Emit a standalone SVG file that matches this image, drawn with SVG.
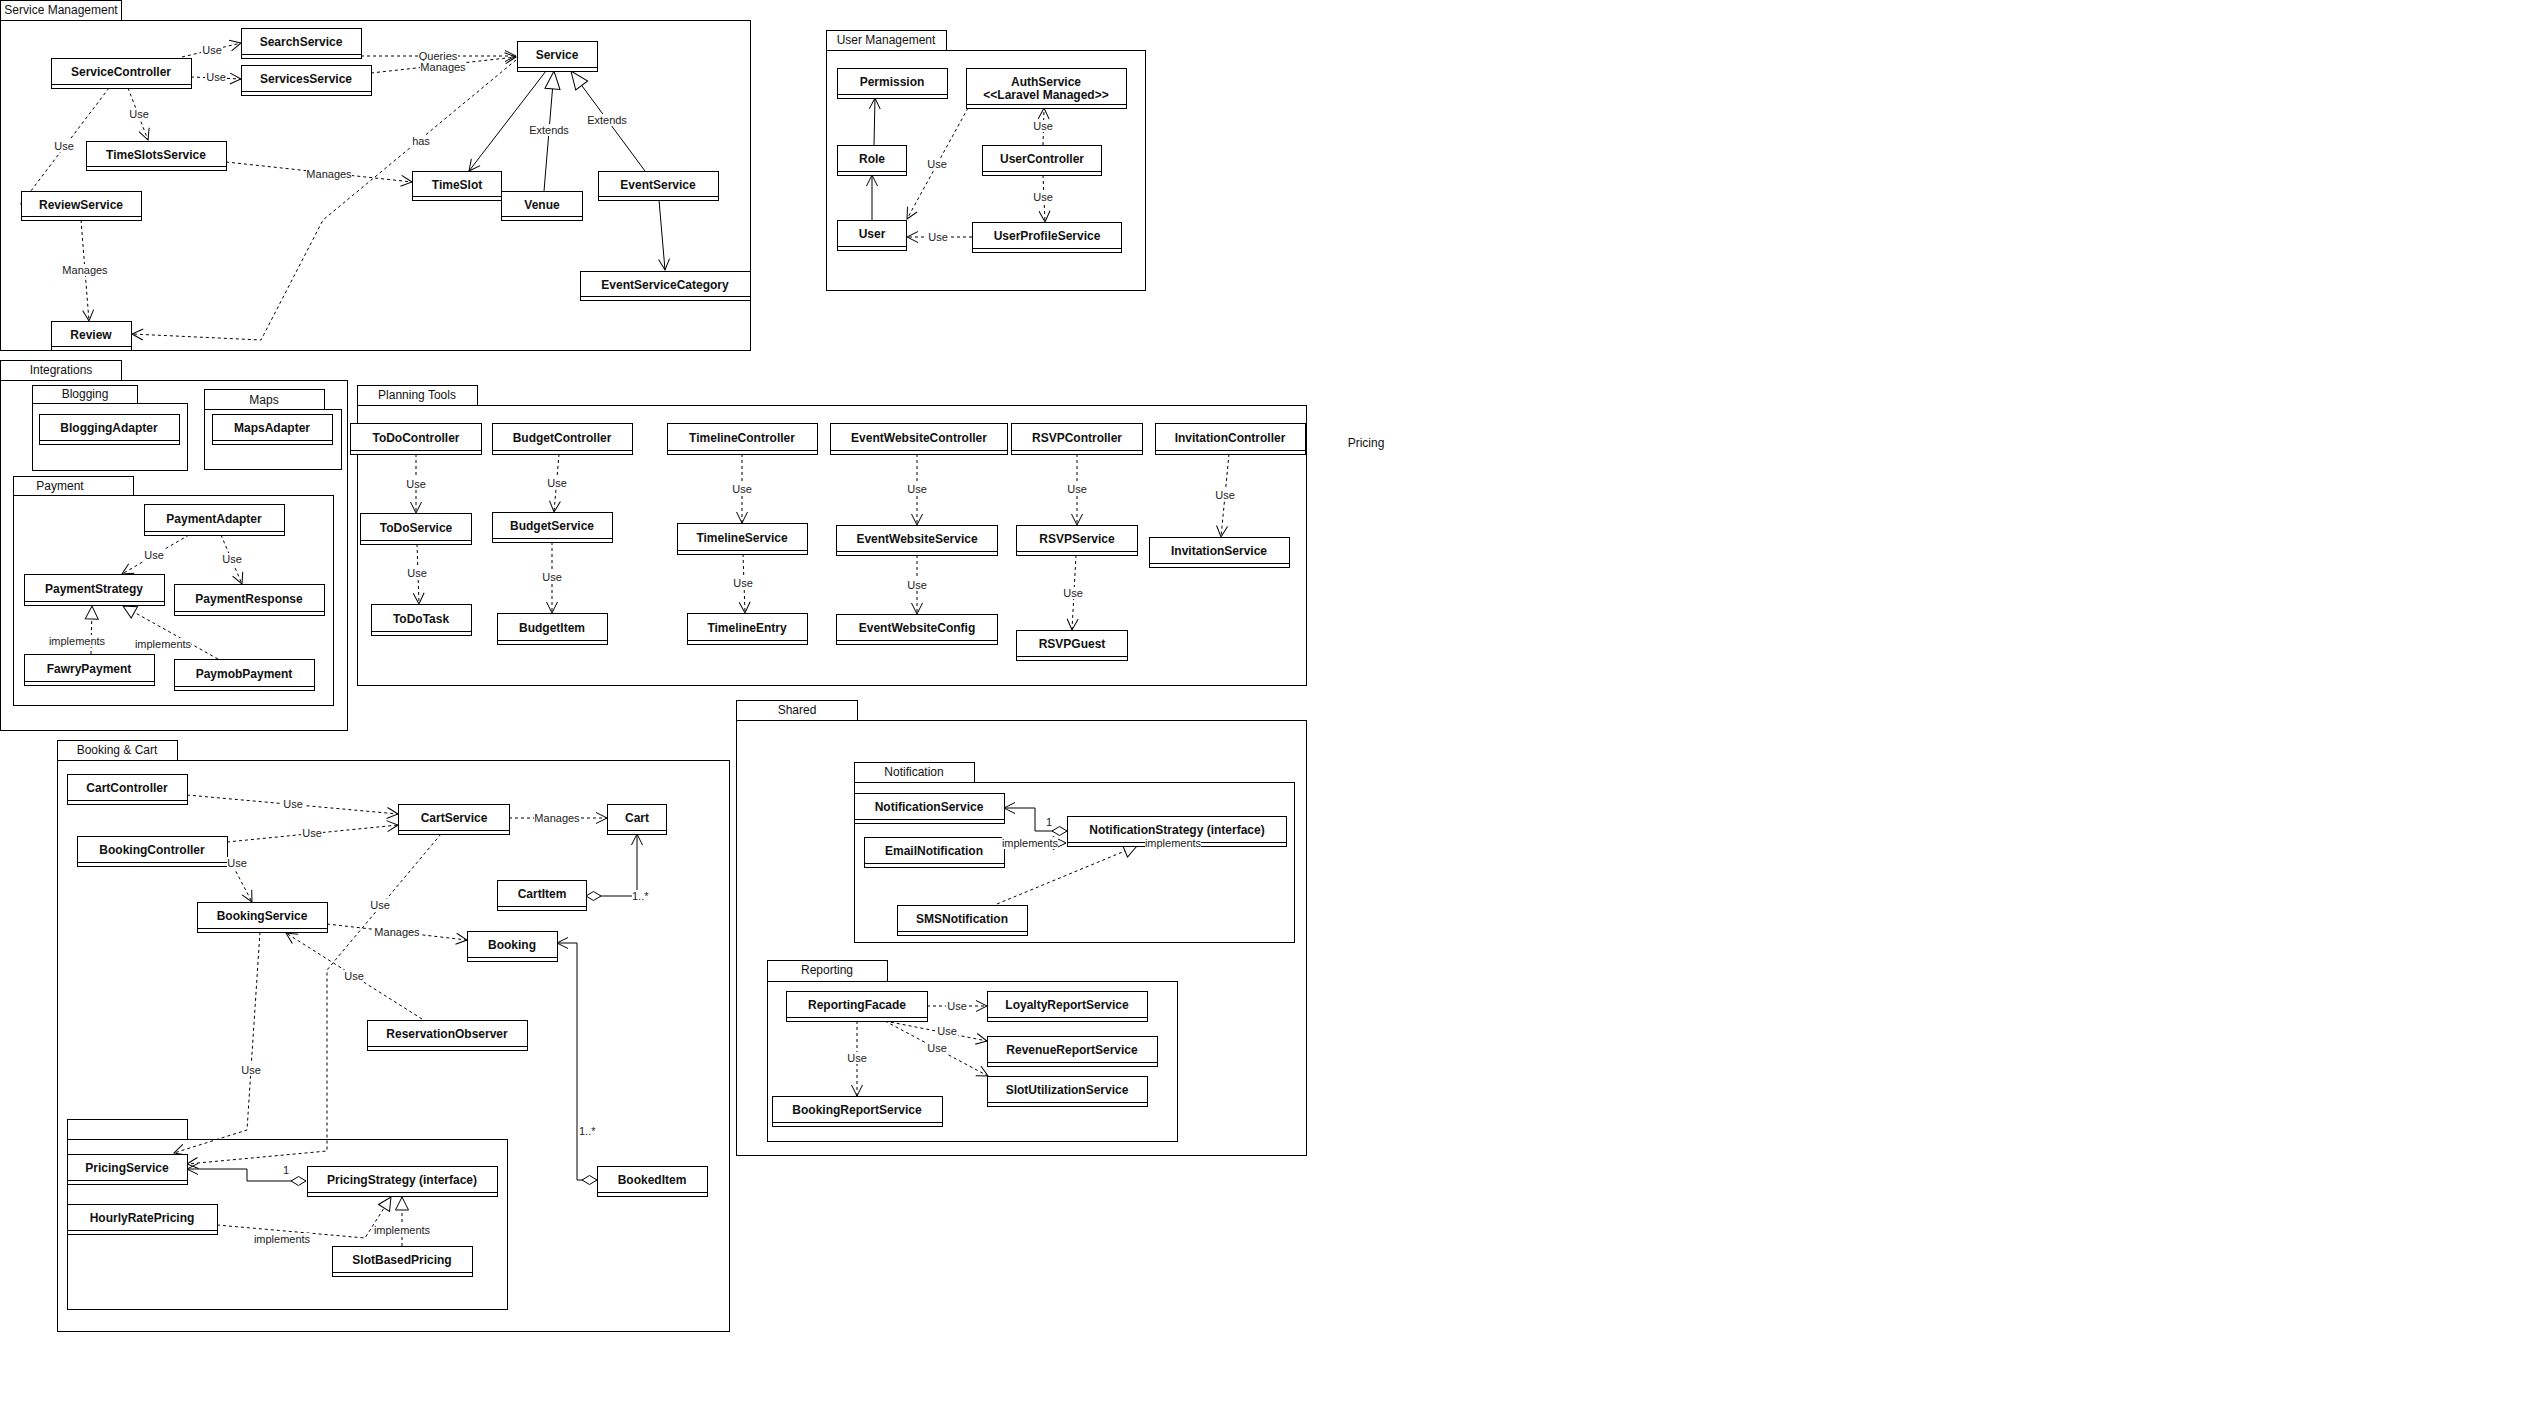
<svg xmlns="http://www.w3.org/2000/svg" width="2547" height="1406" viewBox="0 0 2547 1406">
<style>
.bg{fill:#fff}
.pk{fill:#fff;stroke:#000;stroke-width:1}
.pt{font-family:"Liberation Sans",Arial,sans-serif;font-size:12px;text-anchor:middle;fill:#111}
.c{fill:#fff;stroke:#000;stroke-width:1}
.cl{stroke:#000;stroke-width:1}
.n{font-family:"Liberation Sans",Arial,sans-serif;font-size:12px;font-weight:bold;text-anchor:middle;fill:#111}
.e{fill:none;stroke:#000;stroke-width:1}
.d{stroke-dasharray:3 3}
.o{marker-end:url(#open)}
.tb{marker-end:url(#triBig)}
.ts{marker-end:url(#triSmall)}
.dm{marker-start:url(#diamond)}
.lb{fill:#fff}
.l{font-family:"Liberation Sans",Arial,sans-serif;font-size:11px;text-anchor:middle;fill:#222}
.la{font-family:"Liberation Sans",Arial,sans-serif;font-size:11px;text-anchor:start;fill:#222}
</style>
<defs>
<marker id="open" markerUnits="userSpaceOnUse" markerWidth="14" markerHeight="14" viewBox="0 0 14 14" refX="12" refY="7" orient="auto" overflow="visible"><path d="M1,1.5 L12,7 L1,12.5" fill="none" stroke="#000" stroke-width="1"/></marker>
<marker id="triBig" markerUnits="userSpaceOnUse" markerWidth="20" markerHeight="20" viewBox="0 0 20 20" refX="19" refY="10" orient="auto" overflow="visible"><path d="M1,2.5 L19,10 L1,17.5 Z" fill="#fff" stroke="#000" stroke-width="1"/></marker>
<marker id="triSmall" markerUnits="userSpaceOnUse" markerWidth="16" markerHeight="16" viewBox="0 0 16 16" refX="14" refY="8" orient="auto" overflow="visible"><path d="M1,1.5 L14,8 L1,14.5 Z" fill="#fff" stroke="#000" stroke-width="1"/></marker>
<marker id="diamond" markerUnits="userSpaceOnUse" markerWidth="18" markerHeight="12" viewBox="0 0 18 12" refX="1" refY="6" orient="auto" overflow="visible"><path d="M1,6 L8.5,1.5 L16,6 L8.5,10.5 Z" fill="#fff" stroke="#000" stroke-width="1"/></marker>
</defs>
<rect class="bg" x="0" y="0" width="2547" height="1406"/>

<g id="packages">
<g id="pkg-service-management"><rect class="pk" x="0.5" y="0.5" width="121" height="20"/><rect class="pk" x="0.5" y="20.5" width="750" height="330"/><text class="pt" x="61" y="14">Service Management</text></g>
<g id="pkg-user-management"><rect class="pk" x="826.5" y="30.5" width="120" height="20"/><rect class="pk" x="826.5" y="50.5" width="319" height="240"/><text class="pt" x="886" y="44">User Management</text></g>
<g id="pkg-integrations"><rect class="pk" x="0.5" y="360.5" width="121" height="20"/><rect class="pk" x="0.5" y="380.5" width="347" height="350"/><text class="pt" x="61" y="374">Integrations</text></g>
<g id="pkg-blogging"><rect class="pk" x="32.5" y="385.5" width="105" height="18"/><rect class="pk" x="32.5" y="403.5" width="155" height="67"/><text class="pt" x="85" y="398">Blogging</text></g>
<g id="pkg-maps"><rect class="pk" x="204.5" y="389.5" width="120" height="20"/><rect class="pk" x="204.5" y="409.5" width="137" height="60"/><text class="pt" x="264" y="404">Maps</text></g>
<g id="pkg-payment"><rect class="pk" x="13.5" y="476.5" width="120" height="19"/><rect class="pk" x="13.5" y="495.5" width="320" height="210"/><text class="pt" x="60" y="490">Payment</text></g>
<g id="pkg-planning-tools"><rect class="pk" x="357.5" y="385.5" width="120" height="20"/><rect class="pk" x="357.5" y="405.5" width="949" height="280"/><text class="pt" x="417" y="399">Planning Tools</text></g>
<g id="pkg-booking-cart"><rect class="pk" x="57.5" y="740.5" width="120" height="20"/><rect class="pk" x="57.5" y="760.5" width="672" height="571"/><text class="pt" x="117" y="754">Booking &amp; Cart</text></g>
<g id="pkg-pricing-inner"><rect class="pk" x="67.5" y="1119.5" width="120" height="20"/><rect class="pk" x="67.5" y="1139.5" width="440" height="170"/></g>
<g id="pkg-shared"><rect class="pk" x="736.5" y="700.5" width="121" height="20"/><rect class="pk" x="736.5" y="720.5" width="570" height="435"/><text class="pt" x="797" y="714">Shared</text></g>
<g id="pkg-notification"><rect class="pk" x="854.5" y="762.5" width="120" height="20"/><rect class="pk" x="854.5" y="782.5" width="440" height="160"/><text class="pt" x="914" y="776">Notification</text></g>
<g id="pkg-reporting"><rect class="pk" x="767.5" y="960.5" width="120" height="21"/><rect class="pk" x="767.5" y="981.5" width="410" height="160"/><text class="pt" x="827" y="974">Reporting</text></g>
<g id="pkg-pricing"><text class="pt" x="1366" y="447">Pricing</text></g>
</g>

<g id="connectors">
<path class="e d o" d="M182,57 L241,43"/>
<path class="e d o" d="M191,77 L241,79"/>
<path class="e d o" d="M361,56 L516,56"/>
<path class="e d o" d="M371,73 L516,57"/>
<path class="e d o" d="M128,88 L148,140"/>
<path class="e d o" d="M109,88 L21,204"/>
<path class="e d o" d="M226,162 L412,182"/>
<path class="e d o" d="M81,220 L89,321"/>
<path class="e d o" d="M516,60 L323,220 L261,340 L132,334"/>
<path class="e o" d="M546,71 L469,171"/>
<path class="e tb" d="M544,191 L554,71"/>
<path class="e tb" d="M645,171 L571,71"/>
<path class="e o" d="M659,200 L665,270"/>

<path class="e o" d="M874,145 L875,98"/>
<path class="e o" d="M872,220 L872,175"/>
<path class="e d o" d="M968,108 L907,219"/>
<path class="e d o" d="M1043,145 L1044,108"/>
<path class="e d o" d="M1043,175 L1045,222"/>
<path class="e d o" d="M972,237 L907,237"/>

<path class="e d o" d="M189,535 L122,574"/>
<path class="e d o" d="M221,535 L242,584"/>
<path class="e d ts" d="M91,654 L92,606"/>
<path class="e d ts" d="M218,659 L123,606"/>

<path class="e d o" d="M416,454 L416,513"/>
<path class="e d o" d="M417,544 L419,604"/>
<path class="e d o" d="M559,454 L554,512"/>
<path class="e d o" d="M552,542 L552,613"/>
<path class="e d o" d="M742,454 L742,523"/>
<path class="e d o" d="M743,554 L745,613"/>
<path class="e d o" d="M917,454 L917,525"/>
<path class="e d o" d="M917,555 L917,614"/>
<path class="e d o" d="M1077,454 L1077,525"/>
<path class="e d o" d="M1076,555 L1072,630"/>
<path class="e d o" d="M1229,454 L1221,537"/>

<path class="e d o" d="M187,795 L398,814"/>
<path class="e d o" d="M227,842 L398,825"/>
<path class="e d o" d="M233,866 L252,902"/>
<path class="e d o" d="M509,818 L607,818"/>
<path class="e dm o" d="M586,896 L637,896 L637,834"/>
<path class="e d o" d="M327,924 L467,940"/>
<path class="e d o" d="M422,1019 L286,933"/>
<path class="e d o" d="M441,834 L327,970 L327,1151 L187,1164"/>
<path class="e d o" d="M260,932 L247,1130 L174,1153"/>
<path class="e dm o" d="M306,1181 L247,1181 L247,1169 L187,1169"/>
<path class="e d ts" d="M217,1225 L365,1238 L391,1197"/>
<path class="e d ts" d="M402,1246 L402,1197"/>
<path class="e dm o" d="M597,1180 L577,1180 L577,943 L557,943"/>

<path class="e dm o" d="M1067,831 L1035,831 L1035,808 L1004,808"/>
<path class="e d ts" d="M1004,843 L1066,843"/>
<path class="e d ts" d="M997,904 L1137,846"/>
<path class="e d o" d="M927,1006 L987,1006"/>
<path class="e d o" d="M885,1021 L987,1041"/>
<path class="e d o" d="M885,1021 L988,1076"/>
<path class="e d o" d="M857,1021 L857,1096"/>
</g>

<g id="nodes">
<g id="ServiceController"><rect class="c" x="51.5" y="58.5" width="140" height="30"/><line class="cl" x1="51.5" y1="84.5" x2="191.5" y2="84.5"/><text class="n" x="121" y="76">ServiceController</text></g>
<g id="SearchService"><rect class="c" x="241.5" y="28.5" width="120" height="30"/><line class="cl" x1="241.5" y1="54.5" x2="361.5" y2="54.5"/><text class="n" x="301" y="46">SearchService</text></g>
<g id="ServicesService"><rect class="c" x="241.5" y="65.5" width="130" height="30"/><line class="cl" x1="241.5" y1="91.5" x2="371.5" y2="91.5"/><text class="n" x="306" y="83">ServicesService</text></g>
<g id="Service"><rect class="c" x="517.5" y="41.5" width="80" height="30"/><line class="cl" x1="517.5" y1="67.5" x2="597.5" y2="67.5"/><text class="n" x="557" y="59">Service</text></g>
<g id="TimeSlotsService"><rect class="c" x="86.5" y="141.5" width="140" height="29"/><line class="cl" x1="86.5" y1="166.5" x2="226.5" y2="166.5"/><text class="n" x="156" y="159">TimeSlotsService</text></g>
<g id="ReviewService"><rect class="c" x="21.5" y="191.5" width="120" height="29"/><line class="cl" x1="21.5" y1="216.5" x2="141.5" y2="216.5"/><text class="n" x="81" y="209">ReviewService</text></g>
<g id="TimeSlot"><rect class="c" x="412.5" y="171.5" width="89" height="29"/><line class="cl" x1="412.5" y1="196.5" x2="501.5" y2="196.5"/><text class="n" x="457" y="189">TimeSlot</text></g>
<g id="Venue"><rect class="c" x="501.5" y="191.5" width="81" height="29"/><line class="cl" x1="501.5" y1="216.5" x2="582.5" y2="216.5"/><text class="n" x="542" y="209">Venue</text></g>
<g id="EventService"><rect class="c" x="598.5" y="171.5" width="120" height="29"/><line class="cl" x1="598.5" y1="196.5" x2="718.5" y2="196.5"/><text class="n" x="658" y="189">EventService</text></g>
<g id="EventServiceCategory"><rect class="c" x="580.5" y="271.5" width="170" height="29"/><line class="cl" x1="580.5" y1="296.5" x2="750.5" y2="296.5"/><text class="n" x="665" y="289">EventServiceCategory</text></g>
<g id="Review"><rect class="c" x="51.5" y="321.5" width="80" height="29"/><line class="cl" x1="51.5" y1="346.5" x2="131.5" y2="346.5"/><text class="n" x="91" y="339">Review</text></g>

<g id="Permission"><rect class="c" x="837.5" y="68.5" width="110" height="30"/><line class="cl" x1="837.5" y1="94.5" x2="947.5" y2="94.5"/><text class="n" x="892" y="86">Permission</text></g>
<g id="AuthService"><rect class="c" x="966.5" y="68.5" width="160" height="40"/><line class="cl" x1="966.5" y1="104.5" x2="1126.5" y2="104.5"/><text class="n" x="1046" y="86">AuthService</text><text class="n" x="1046" y="99">&lt;&lt;Laravel Managed&gt;&gt;</text></g>
<g id="Role"><rect class="c" x="837.5" y="145.5" width="69" height="30"/><line class="cl" x1="837.5" y1="171.5" x2="906.5" y2="171.5"/><text class="n" x="872" y="163">Role</text></g>
<g id="UserController"><rect class="c" x="982.5" y="145.5" width="119" height="30"/><line class="cl" x1="982.5" y1="171.5" x2="1101.5" y2="171.5"/><text class="n" x="1042" y="163">UserController</text></g>
<g id="User"><rect class="c" x="837.5" y="220.5" width="69" height="30"/><line class="cl" x1="837.5" y1="246.5" x2="906.5" y2="246.5"/><text class="n" x="872" y="238">User</text></g>
<g id="UserProfileService"><rect class="c" x="972.5" y="222.5" width="149" height="30"/><line class="cl" x1="972.5" y1="248.5" x2="1121.5" y2="248.5"/><text class="n" x="1047" y="240">UserProfileService</text></g>

<g id="BloggingAdapter"><rect class="c" x="39.5" y="414.5" width="140" height="30"/><line class="cl" x1="39.5" y1="440.5" x2="179.5" y2="440.5"/><text class="n" x="109" y="432">BloggingAdapter</text></g>
<g id="MapsAdapter"><rect class="c" x="212.5" y="414.5" width="120" height="30"/><line class="cl" x1="212.5" y1="440.5" x2="332.5" y2="440.5"/><text class="n" x="272" y="432">MapsAdapter</text></g>
<g id="PaymentAdapter"><rect class="c" x="144.5" y="504.5" width="140" height="31"/><line class="cl" x1="144.5" y1="531.5" x2="284.5" y2="531.5"/><text class="n" x="214" y="523">PaymentAdapter</text></g>
<g id="PaymentStrategy"><rect class="c" x="24.5" y="574.5" width="140" height="31"/><line class="cl" x1="24.5" y1="601.5" x2="164.5" y2="601.5"/><text class="n" x="94" y="593">PaymentStrategy</text></g>
<g id="PaymentResponse"><rect class="c" x="174.5" y="584.5" width="150" height="31"/><line class="cl" x1="174.5" y1="611.5" x2="324.5" y2="611.5"/><text class="n" x="249" y="603">PaymentResponse</text></g>
<g id="FawryPayment"><rect class="c" x="24.5" y="654.5" width="130" height="31"/><line class="cl" x1="24.5" y1="681.5" x2="154.5" y2="681.5"/><text class="n" x="89" y="673">FawryPayment</text></g>
<g id="PaymobPayment"><rect class="c" x="174.5" y="659.5" width="140" height="31"/><line class="cl" x1="174.5" y1="686.5" x2="314.5" y2="686.5"/><text class="n" x="244" y="678">PaymobPayment</text></g>

<g id="ToDoController"><rect class="c" x="350.5" y="423.5" width="131" height="31"/><line class="cl" x1="350.5" y1="450.5" x2="481.5" y2="450.5"/><text class="n" x="416" y="442">ToDoController</text></g>
<g id="BudgetController"><rect class="c" x="492.5" y="423.5" width="140" height="31"/><line class="cl" x1="492.5" y1="450.5" x2="632.5" y2="450.5"/><text class="n" x="562" y="442">BudgetController</text></g>
<g id="TimelineController"><rect class="c" x="667.5" y="423.5" width="150" height="31"/><line class="cl" x1="667.5" y1="450.5" x2="817.5" y2="450.5"/><text class="n" x="742" y="442">TimelineController</text></g>
<g id="EventWebsiteController"><rect class="c" x="830.5" y="423.5" width="177" height="31"/><line class="cl" x1="830.5" y1="450.5" x2="1007.5" y2="450.5"/><text class="n" x="919" y="442">EventWebsiteController</text></g>
<g id="RSVPController"><rect class="c" x="1011.5" y="423.5" width="131" height="31"/><line class="cl" x1="1011.5" y1="450.5" x2="1142.5" y2="450.5"/><text class="n" x="1077" y="442">RSVPController</text></g>
<g id="InvitationController"><rect class="c" x="1155.5" y="423.5" width="150" height="31"/><line class="cl" x1="1155.5" y1="450.5" x2="1305.5" y2="450.5"/><text class="n" x="1230" y="442">InvitationController</text></g>
<g id="ToDoService"><rect class="c" x="360.5" y="513.5" width="111" height="31"/><line class="cl" x1="360.5" y1="540.5" x2="471.5" y2="540.5"/><text class="n" x="416" y="532">ToDoService</text></g>
<g id="BudgetService"><rect class="c" x="492.5" y="512.5" width="120" height="30"/><line class="cl" x1="492.5" y1="538.5" x2="612.5" y2="538.5"/><text class="n" x="552" y="530">BudgetService</text></g>
<g id="TimelineService"><rect class="c" x="677.5" y="523.5" width="130" height="31"/><line class="cl" x1="677.5" y1="550.5" x2="807.5" y2="550.5"/><text class="n" x="742" y="542">TimelineService</text></g>
<g id="EventWebsiteService"><rect class="c" x="836.5" y="525.5" width="161" height="30"/><line class="cl" x1="836.5" y1="551.5" x2="997.5" y2="551.5"/><text class="n" x="917" y="543">EventWebsiteService</text></g>
<g id="RSVPService"><rect class="c" x="1016.5" y="525.5" width="121" height="30"/><line class="cl" x1="1016.5" y1="551.5" x2="1137.5" y2="551.5"/><text class="n" x="1077" y="543">RSVPService</text></g>
<g id="InvitationService"><rect class="c" x="1149.5" y="537.5" width="140" height="30"/><line class="cl" x1="1149.5" y1="563.5" x2="1289.5" y2="563.5"/><text class="n" x="1219" y="555">InvitationService</text></g>
<g id="ToDoTask"><rect class="c" x="371.5" y="604.5" width="100" height="31"/><line class="cl" x1="371.5" y1="631.5" x2="471.5" y2="631.5"/><text class="n" x="421" y="623">ToDoTask</text></g>
<g id="BudgetItem"><rect class="c" x="497.5" y="613.5" width="110" height="31"/><line class="cl" x1="497.5" y1="640.5" x2="607.5" y2="640.5"/><text class="n" x="552" y="632">BudgetItem</text></g>
<g id="TimelineEntry"><rect class="c" x="687.5" y="613.5" width="120" height="31"/><line class="cl" x1="687.5" y1="640.5" x2="807.5" y2="640.5"/><text class="n" x="747" y="632">TimelineEntry</text></g>
<g id="EventWebsiteConfig"><rect class="c" x="836.5" y="614.5" width="161" height="30"/><line class="cl" x1="836.5" y1="640.5" x2="997.5" y2="640.5"/><text class="n" x="917" y="632">EventWebsiteConfig</text></g>
<g id="RSVPGuest"><rect class="c" x="1016.5" y="630.5" width="111" height="30"/><line class="cl" x1="1016.5" y1="656.5" x2="1127.5" y2="656.5"/><text class="n" x="1072" y="648">RSVPGuest</text></g>

<g id="CartController"><rect class="c" x="67.5" y="774.5" width="120" height="30"/><line class="cl" x1="67.5" y1="800.5" x2="187.5" y2="800.5"/><text class="n" x="127" y="792">CartController</text></g>
<g id="BookingController"><rect class="c" x="77.5" y="836.5" width="150" height="30"/><line class="cl" x1="77.5" y1="862.5" x2="227.5" y2="862.5"/><text class="n" x="152" y="854">BookingController</text></g>
<g id="CartService"><rect class="c" x="398.5" y="804.5" width="111" height="30"/><line class="cl" x1="398.5" y1="830.5" x2="509.5" y2="830.5"/><text class="n" x="454" y="822">CartService</text></g>
<g id="Cart"><rect class="c" x="607.5" y="804.5" width="59" height="30"/><line class="cl" x1="607.5" y1="830.5" x2="666.5" y2="830.5"/><text class="n" x="637" y="822">Cart</text></g>
<g id="CartItem"><rect class="c" x="497.5" y="880.5" width="89" height="30"/><line class="cl" x1="497.5" y1="906.5" x2="586.5" y2="906.5"/><text class="n" x="542" y="898">CartItem</text></g>
<g id="BookingService"><rect class="c" x="197.5" y="902.5" width="130" height="30"/><line class="cl" x1="197.5" y1="928.5" x2="327.5" y2="928.5"/><text class="n" x="262" y="920">BookingService</text></g>
<g id="Booking"><rect class="c" x="467.5" y="931.5" width="90" height="30"/><line class="cl" x1="467.5" y1="957.5" x2="557.5" y2="957.5"/><text class="n" x="512" y="949">Booking</text></g>
<g id="ReservationObserver"><rect class="c" x="367.5" y="1020.5" width="160" height="30"/><line class="cl" x1="367.5" y1="1046.5" x2="527.5" y2="1046.5"/><text class="n" x="447" y="1038">ReservationObserver</text></g>
<g id="PricingService"><rect class="c" x="67.5" y="1154.5" width="120" height="30"/><line class="cl" x1="67.5" y1="1180.5" x2="187.5" y2="1180.5"/><text class="n" x="127" y="1172">PricingService</text></g>
<g id="PricingStrategy"><rect class="c" x="307.5" y="1166.5" width="190" height="30"/><line class="cl" x1="307.5" y1="1192.5" x2="497.5" y2="1192.5"/><text class="n" x="402" y="1184">PricingStrategy (interface)</text></g>
<g id="HourlyRatePricing"><rect class="c" x="67.5" y="1204.5" width="150" height="30"/><line class="cl" x1="67.5" y1="1230.5" x2="217.5" y2="1230.5"/><text class="n" x="142" y="1222">HourlyRatePricing</text></g>
<g id="SlotBasedPricing"><rect class="c" x="332.5" y="1246.5" width="140" height="30"/><line class="cl" x1="332.5" y1="1272.5" x2="472.5" y2="1272.5"/><text class="n" x="402" y="1264">SlotBasedPricing</text></g>
<g id="BookedItem"><rect class="c" x="597.5" y="1166.5" width="110" height="30"/><line class="cl" x1="597.5" y1="1192.5" x2="707.5" y2="1192.5"/><text class="n" x="652" y="1184">BookedItem</text></g>

<g id="NotificationService"><rect class="c" x="854.5" y="793.5" width="150" height="30"/><line class="cl" x1="854.5" y1="819.5" x2="1004.5" y2="819.5"/><text class="n" x="929" y="811">NotificationService</text></g>
<g id="EmailNotification"><rect class="c" x="864.5" y="837.5" width="140" height="30"/><line class="cl" x1="864.5" y1="863.5" x2="1004.5" y2="863.5"/><text class="n" x="934" y="855">EmailNotification</text></g>
<g id="NotificationStrategy"><rect class="c" x="1067.5" y="816.5" width="219" height="30"/><line class="cl" x1="1067.5" y1="842.5" x2="1286.5" y2="842.5"/><text class="n" x="1177" y="834">NotificationStrategy (interface)</text></g>
<g id="SMSNotification"><rect class="c" x="897.5" y="905.5" width="130" height="30"/><line class="cl" x1="897.5" y1="931.5" x2="1027.5" y2="931.5"/><text class="n" x="962" y="923">SMSNotification</text></g>
<g id="ReportingFacade"><rect class="c" x="786.5" y="991.5" width="141" height="30"/><line class="cl" x1="786.5" y1="1017.5" x2="927.5" y2="1017.5"/><text class="n" x="857" y="1009">ReportingFacade</text></g>
<g id="LoyaltyReportService"><rect class="c" x="987.5" y="991.5" width="160" height="30"/><line class="cl" x1="987.5" y1="1017.5" x2="1147.5" y2="1017.5"/><text class="n" x="1067" y="1009">LoyaltyReportService</text></g>
<g id="RevenueReportService"><rect class="c" x="987.5" y="1036.5" width="170" height="30"/><line class="cl" x1="987.5" y1="1062.5" x2="1157.5" y2="1062.5"/><text class="n" x="1072" y="1054">RevenueReportService</text></g>
<g id="SlotUtilizationService"><rect class="c" x="987.5" y="1076.5" width="160" height="30"/><line class="cl" x1="987.5" y1="1102.5" x2="1147.5" y2="1102.5"/><text class="n" x="1067" y="1094">SlotUtilizationService</text></g>
<g id="BookingReportService"><rect class="c" x="772.5" y="1096.5" width="170" height="30"/><line class="cl" x1="772.5" y1="1122.5" x2="942.5" y2="1122.5"/><text class="n" x="857" y="1114">BookingReportService</text></g>
</g>

<g id="connector-labels">
<rect class="lb" x="201" y="44" width="22" height="12"/><text class="l" x="212" y="54">Use</text>
<rect class="lb" x="205" y="71" width="22" height="12"/><text class="l" x="216" y="81">Use</text>
<rect class="lb" x="418" y="50" width="40" height="12"/><text class="l" x="438" y="60">Queries</text>
<rect class="lb" x="420" y="61" width="46" height="12"/><text class="l" x="443" y="71">Manages</text>
<rect class="lb" x="128" y="108" width="22" height="12"/><text class="l" x="139" y="118">Use</text>
<rect class="lb" x="53" y="140" width="22" height="12"/><text class="l" x="64" y="150">Use</text>
<rect class="lb" x="306" y="168" width="46" height="12"/><text class="l" x="329" y="178">Manages</text>
<rect class="lb" x="62" y="264" width="46" height="12"/><text class="l" x="85" y="274">Manages</text>
<rect class="lb" x="411" y="135" width="20" height="12"/><text class="l" x="421" y="145">has</text>
<rect class="lb" x="529" y="124" width="40" height="12"/><text class="l" x="549" y="134">Extends</text>
<rect class="lb" x="587" y="114" width="40" height="12"/><text class="l" x="607" y="124">Extends</text>

<rect class="lb" x="926" y="158" width="22" height="12"/><text class="l" x="937" y="168">Use</text>
<rect class="lb" x="1032" y="120" width="22" height="12"/><text class="l" x="1043" y="130">Use</text>
<rect class="lb" x="1032" y="191" width="22" height="12"/><text class="l" x="1043" y="201">Use</text>
<rect class="lb" x="927" y="231" width="22" height="12"/><text class="l" x="938" y="241">Use</text>

<rect class="lb" x="143" y="549" width="22" height="12"/><text class="l" x="154" y="559">Use</text>
<rect class="lb" x="221" y="553" width="22" height="12"/><text class="l" x="232" y="563">Use</text>
<rect class="lb" x="49" y="635" width="56" height="12"/><text class="l" x="77" y="645">implements</text>
<rect class="lb" x="135" y="638" width="56" height="12"/><text class="l" x="163" y="648">implements</text>

<rect class="lb" x="405" y="478" width="22" height="12"/><text class="l" x="416" y="488">Use</text>
<rect class="lb" x="406" y="567" width="22" height="12"/><text class="l" x="417" y="577">Use</text>
<rect class="lb" x="546" y="477" width="22" height="12"/><text class="l" x="557" y="487">Use</text>
<rect class="lb" x="541" y="571" width="22" height="12"/><text class="l" x="552" y="581">Use</text>
<rect class="lb" x="731" y="483" width="22" height="12"/><text class="l" x="742" y="493">Use</text>
<rect class="lb" x="732" y="577" width="22" height="12"/><text class="l" x="743" y="587">Use</text>
<rect class="lb" x="906" y="483" width="22" height="12"/><text class="l" x="917" y="493">Use</text>
<rect class="lb" x="906" y="579" width="22" height="12"/><text class="l" x="917" y="589">Use</text>
<rect class="lb" x="1066" y="483" width="22" height="12"/><text class="l" x="1077" y="493">Use</text>
<rect class="lb" x="1062" y="587" width="22" height="12"/><text class="l" x="1073" y="597">Use</text>
<rect class="lb" x="1214" y="489" width="22" height="12"/><text class="l" x="1225" y="499">Use</text>

<rect class="lb" x="282" y="798" width="22" height="12"/><text class="l" x="293" y="808">Use</text>
<rect class="lb" x="301" y="827" width="22" height="12"/><text class="l" x="312" y="837">Use</text>
<rect class="lb" x="227" y="857" width="20" height="12"/><text class="l" x="237" y="867">Use</text>
<rect class="lb" x="534" y="812" width="46" height="12"/><text class="l" x="557" y="822">Manages</text>
<rect class="lb" x="632" y="890" width="17" height="12"/><text class="la" x="632" y="900">1..*</text>
<rect class="lb" x="374" y="926" width="46" height="12"/><text class="l" x="397" y="936">Manages</text>
<rect class="lb" x="343" y="970" width="22" height="12"/><text class="l" x="354" y="980">Use</text>
<rect class="lb" x="369" y="899" width="22" height="12"/><text class="l" x="380" y="909">Use</text>
<rect class="lb" x="240" y="1064" width="22" height="12"/><text class="l" x="251" y="1074">Use</text>
<text class="l" x="286" y="1174">1</text>
<rect class="lb" x="254" y="1233" width="56" height="12"/><text class="l" x="282" y="1243">implements</text>
<rect class="lb" x="374" y="1224" width="56" height="12"/><text class="l" x="402" y="1234">implements</text>
<text class="la" x="579" y="1135">1..*</text>

<text class="l" x="1049" y="826">1</text>
<rect class="lb" x="1002" y="837" width="56" height="12"/><text class="l" x="1030" y="847">implements</text>
<rect class="lb" x="1145" y="837" width="56" height="12"/><text class="l" x="1173" y="847">implements</text>
<rect class="lb" x="946" y="1000" width="22" height="12"/><text class="l" x="957" y="1010">Use</text>
<rect class="lb" x="936" y="1025" width="22" height="12"/><text class="l" x="947" y="1035">Use</text>
<rect class="lb" x="926" y="1042" width="22" height="12"/><text class="l" x="937" y="1052">Use</text>
<rect class="lb" x="846" y="1052" width="22" height="12"/><text class="l" x="857" y="1062">Use</text>
</g>
</svg>
